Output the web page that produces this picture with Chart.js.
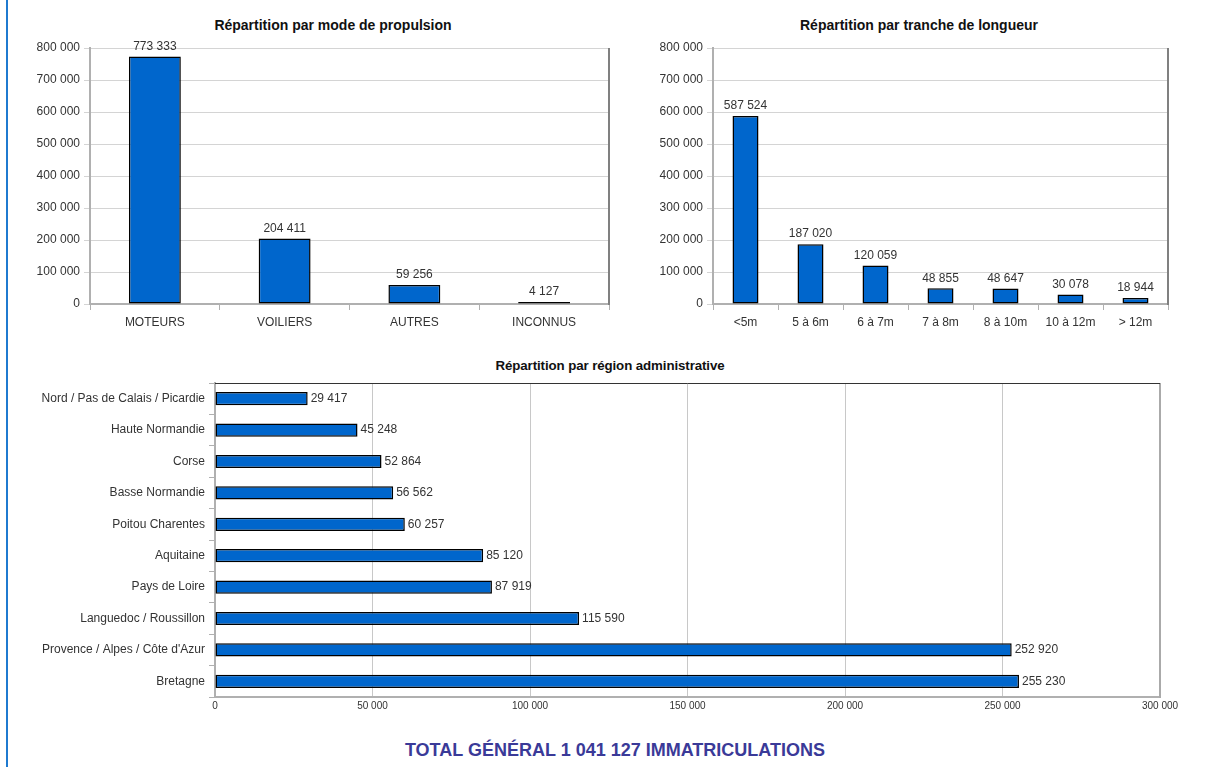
<!DOCTYPE html>
<html lang="fr">
<head>
<meta charset="utf-8">
<title>Immatriculations</title>
<script src="https://cdn.jsdelivr.net/npm/chart.js@4.4.0/dist/chart.umd.min.js"></script>
<style>
  body { margin: 0; background: #fff; width: 1205px; height: 767px; position: relative; overflow: hidden; font-family: "Liberation Sans", Arial, sans-serif; }
  #bord { position: absolute; left: 6px; top: 0; width: 2px; height: 767px; background: #1f7ad0; }
  canvas { position: absolute; }
  #propulsion { left: 0; top: 0; }
  #longueur { left: 620px; top: 0; }
  #regions { left: 20px; top: 340px; }
  .titre { position: absolute; text-align: center; font-weight: bold; font-size: 14px; line-height: 16px; color: #111; }
  #t1 { left: 0; width: 666px; top: 17px; }
  #t2 { left: 620px; width: 598px; top: 17px; }
  #t3 { left: 20px; width: 1180px; top: 358px; font-size: 13.3px; letter-spacing: -0.1px; }
  #total { position: absolute; left: 0; width: 1230px; top: 740px; text-align: center; font-weight: bold; font-size: 18px; line-height: 20px; color: #3a3a98; }
</style>
</head>
<body>
<div id="bord"></div>
<div class="titre" id="t1">Répartition par mode de propulsion</div>
<div class="titre" id="t2">Répartition par tranche de longueur</div>
<div class="titre" id="t3">Répartition par région administrative</div>
<canvas id="propulsion" width="666" height="334"></canvas>
<canvas id="longueur" width="598" height="334"></canvas>
<canvas id="regions" width="1180" height="380"></canvas>
<div id="total">TOTAL GÉNÉRAL 1 041 127 IMMATRICULATIONS</div>

<script>
// données
const modes = ['MOTEURS', 'VOILIERS', 'AUTRES', 'INCONNUS'];
const modesValeurs = [773333, 204411, 59256, 4127];

const tranches = ['<5m', '5 à 6m', '6 à 7m', '7 à 8m', '8 à 10m', '10 à 12m', '> 12m'];
const tranchesValeurs = [587524, 187020, 120059, 48855, 48647, 30078, 18944];

const regions = ['Nord / Pas de Calais / Picardie', 'Haute Normandie', 'Corse', 'Basse Normandie',
  'Poitou Charentes', 'Aquitaine', 'Pays de Loire', 'Languedoc / Roussillon',
  'Provence / Alpes / Côte d\'Azur', 'Bretagne'];
const regionsValeurs = [29417, 45248, 52864, 56562, 60257, 85120, 87919, 115590, 252920, 255230];

const POLICE = '"Liberation Sans", Arial, sans-serif';
Chart.defaults.font.family = POLICE;
Chart.defaults.color = '#333';

// 773333 -> "773 333"
function fmt(v) {
    return String(v).replace(/\B(?=(\d{3})+(?!\d))/g, ' ');
}

// étiquettes de valeur au-dessus / à droite des barres
const valeurs = {
    id: 'valeurs',
    afterDatasetsDraw(chart) {
        const ctx = chart.ctx;
        const horiz = chart.options.indexAxis === 'y';
        ctx.save();
        ctx.font = '12px ' + POLICE;
        ctx.fillStyle = '#333';
        ctx.textBaseline = 'middle';
        chart.getDatasetMeta(0).data.forEach((bar, i) => {
            const v = chart.data.datasets[0].data[i];
            if (horiz) {
                ctx.textAlign = 'left';
                ctx.fillText(fmt(v), bar.x + 3, bar.y);
            } else {
                ctx.textAlign = 'center';
                ctx.fillText(fmt(v), bar.x, bar.y - 10);
            }
        });
        ctx.restore();
    }
};

// bord droit (et haut) de la zone de tracé
const cadre = {
    id: 'cadre',
    afterDraw(chart, args, opts) {
        const a = chart.chartArea;
        const ctx = chart.ctx;
        ctx.save();
        ctx.lineWidth = 2;
        ctx.strokeStyle = opts.droite;
        ctx.beginPath();
        ctx.moveTo(a.right, a.top);
        ctx.lineTo(a.right, a.bottom + 1);
        ctx.stroke();
        if (opts.haut) {
            ctx.lineWidth = 1;
            ctx.strokeStyle = opts.haut;
            ctx.beginPath();
            ctx.moveTo(a.left, a.top + 0.5);
            ctx.lineTo(a.right, a.top + 0.5);
            ctx.stroke();
        }
        ctx.restore();
    }
};

function barresVerticales(id, labels, data, largeurAxe, margeDroite) {
    return new Chart(document.getElementById(id), {
        type: 'bar',
        data: {
            labels: labels,
            datasets: [{
                data: data,
                backgroundColor: '#0066cc',
                borderColor: '#000',
                borderWidth: 1.5,
                borderSkipped: false,
                minBarLength: 2,
                barPercentage: 0.4,
                categoryPercentage: 1
            }]
        },
        options: {
            responsive: false,
            animation: false,
            layout: { padding: { top: 48, right: margeDroite, left: 0, bottom: 0 } },
            plugins: {
                legend: { display: false },
                tooltip: { enabled: false },
                cadre: { droite: '#808080' }
            },
            scales: {
                x: {
                    grid: { offset: true, drawOnChartArea: false, tickLength: 6, color: '#b0b0b0' },
                    border: { color: '#b0b0b0', width: 2 },
                    ticks: { color: '#333', font: { size: 12 }, padding: 5 },
                    afterFit: s => { s.height = 30; }
                },
                y: {
                    min: 0,
                    max: 800000,
                    ticks: { stepSize: 100000, callback: v => fmt(v), color: '#333', font: { size: 12 }, padding: 4 },
                    grid: { color: '#d4d4d4', tickLength: 6 },
                    border: { color: '#b0b0b0', width: 2 },
                    afterFit: s => { s.width = largeurAxe; }
                }
            }
        },
        plugins: [valeurs, cadre]
    });
}

window.onload = () => {
    barresVerticales('propulsion', modes, modesValeurs, 90, 57);
    barresVerticales('longueur', tranches, tranchesValeurs, 93, 50);

    new Chart(document.getElementById('regions'), {
        type: 'bar',
        data: {
            labels: regions,
            datasets: [{
                data: regionsValeurs,
                backgroundColor: '#0066cc',
                borderColor: '#000',
                borderWidth: 1.5,
                borderSkipped: false,
                barPercentage: 0.42,
                categoryPercentage: 1
            }]
        },
        options: {
            indexAxis: 'y',
            responsive: false,
            animation: false,
            layout: { padding: { top: 43, right: 40, left: 0, bottom: 0 } },
            plugins: {
                legend: { display: false },
                tooltip: { enabled: false },
                cadre: { droite: '#aaaaaa', haut: '#333' }
            },
            scales: {
                x: {
                    min: 0,
                    max: 300000,
                    ticks: { stepSize: 50000, callback: v => fmt(v), color: '#333', font: { size: 10 }, padding: 3 },
                    grid: { color: '#c8c8c8', drawTicks: false },
                    border: { color: '#b0b0b0', width: 2 },
                    afterFit: s => { s.height = 23; }
                },
                y: {
                    grid: { offset: true, drawOnChartArea: false, tickLength: 6, color: '#b0b0b0' },
                    border: { color: '#b0b0b0', width: 2 },
                    ticks: { color: '#333', font: { size: 12 }, padding: 4 },
                    afterFit: s => { s.width = 195; }
                }
            }
        },
        plugins: [valeurs, cadre]
    });
};
</script>
</body>
</html>
